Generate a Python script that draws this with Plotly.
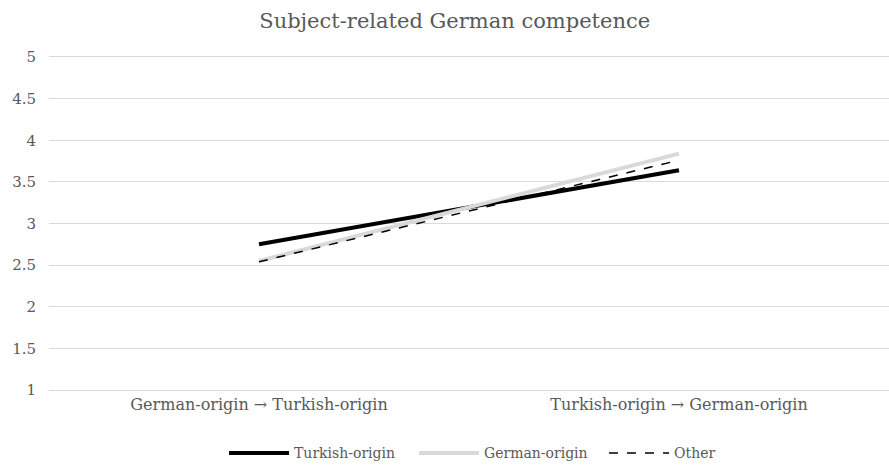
import plotly.graph_objects as go

categories = ["German-origin \u2192 Turkish-origin", "Turkish-origin \u2192 German-origin"]
turkish = [2.75, 3.64]
german = [2.55, 3.84]
other = [2.54, 3.76]
yticks = [1, 1.5, 2, 2.5, 3, 3.5, 4, 4.5, 5]

font_fam = "DejaVu Serif"
gray = "#595959"

fig = go.Figure()
fig.add_trace(go.Scatter(x=categories, y=turkish, mode="lines", name="Turkish-origin",
                         line=dict(color="black", width=4)))
fig.add_trace(go.Scatter(x=categories, y=german, mode="lines", name="German-origin",
                         line=dict(color="#d9d9d9", width=4)))
fig.add_trace(go.Scatter(x=categories, y=other, mode="lines", name="Other",
                         line=dict(color="black", width=1.5, dash="dash")))

fig.update_layout(
    width=889, height=465,
    margin=dict(l=49, r=0, t=57, b=75),
    paper_bgcolor="white", plot_bgcolor="white",
    font=dict(family=font_fam, size=15, color=gray),
    title=dict(text="Subject-related German competence", x=0.483, xref="paper",
               xanchor="center", y=0.955, yanchor="middle",
               font=dict(family=font_fam, size=21, color=gray)),
    xaxis=dict(type="category", range=[-0.5, 1.5], showgrid=False,
               showline=True, linecolor="#d9d9d9", linewidth=1, mirror=True,
               zeroline=False, ticks="", tickfont=dict(family=font_fam, size=16, color=gray)),
    yaxis=dict(range=[1, 5], tickvals=yticks, ticktext=[str(v) for v in yticks],
               showgrid=True, gridcolor="#d9d9d9", gridwidth=1, zeroline=False,
               showline=False, ticks="", ticklabelstandoff=12,
               tickfont=dict(family=font_fam, size=15, color=gray)),
    legend=dict(orientation="h", x=0.252, xref="container", xanchor="left",
                y=0.025, yref="container", yanchor="middle",
                font=dict(family=font_fam, size=14, color=gray), itemwidth=60,
                entrywidth=115, entrywidthmode="pixels"),
    showlegend=True,
)

fig.write_html("out.html")
